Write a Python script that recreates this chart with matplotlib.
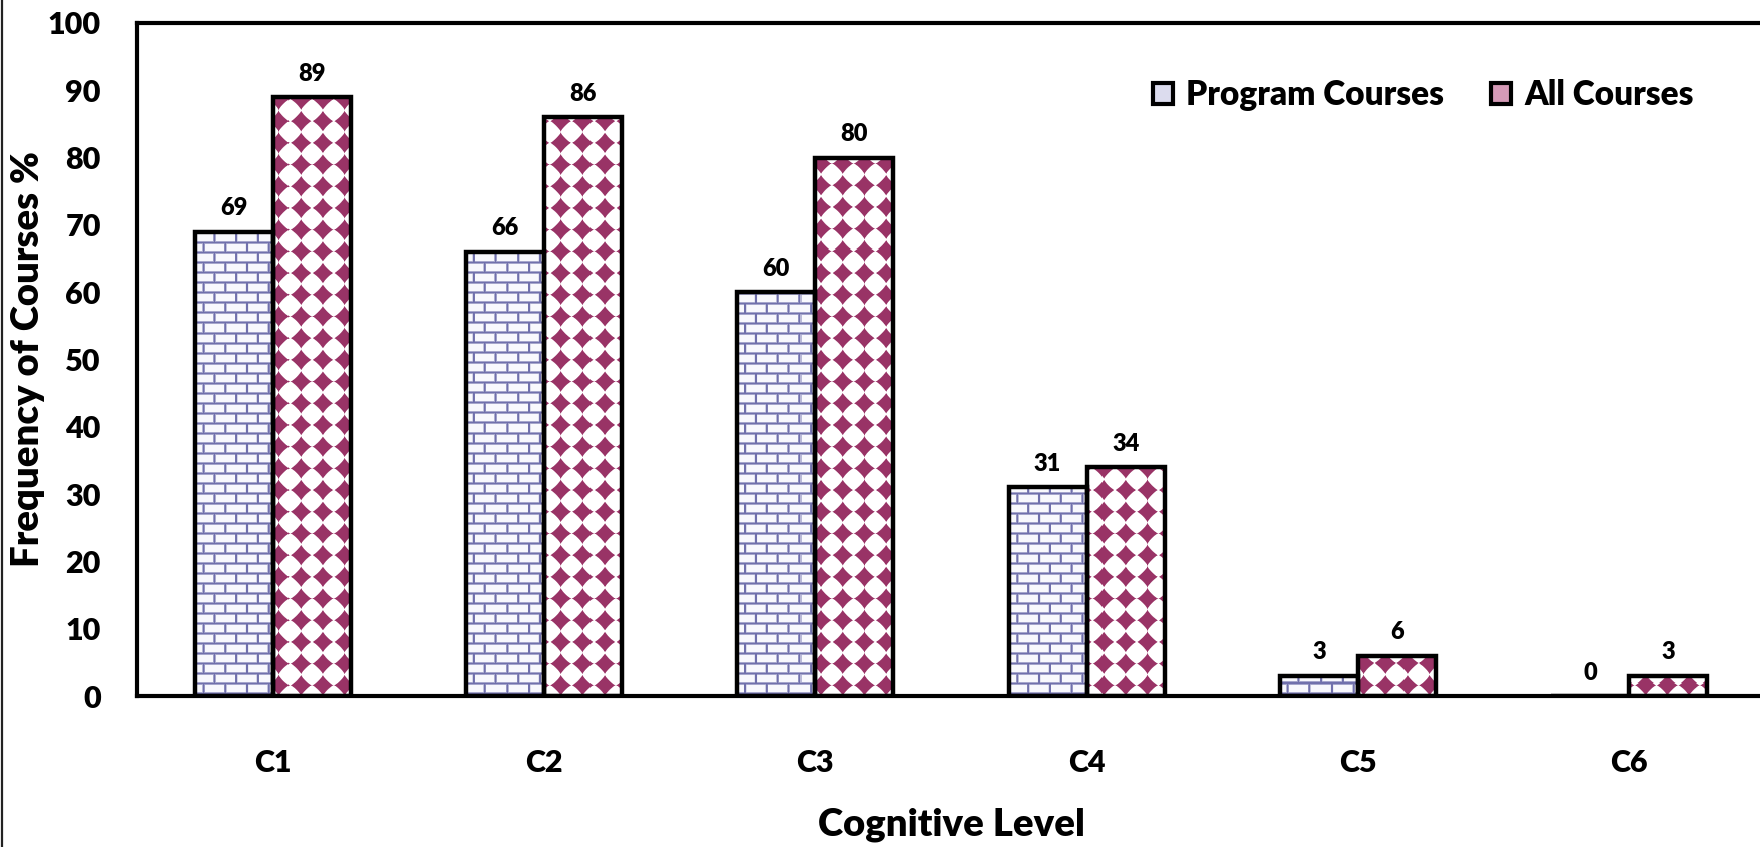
import numpy as np
import matplotlib
matplotlib.use("Agg")
import matplotlib.pyplot as plt
from matplotlib.patches import Patch
from matplotlib.lines import Line2D

plt.rcParams['font.family'] = ['Lato', 'DejaVu Sans']
plt.rcParams['font.weight'] = 'heavy'
plt.rcParams['axes.labelweight'] = 'heavy'

# cognitive levels and share of courses (%) at each level
levels = ['C1', 'C2', 'C3', 'C4', 'C5', 'C6']
program_courses = [69, 66, 60, 31, 3, 0]
all_courses = [89, 86, 80, 34, 6, 3]

W_PX, H_PX, DPI = 1760, 847, 100
fig = plt.figure(figsize=(W_PX / DPI, H_PX / DPI), dpi=DPI)
ax_rect = [137 / W_PX, 151 / H_PX, 1628 / W_PX, 673 / H_PX]
ax = fig.add_axes(ax_rect)

XLIM = (-0.5, 5.5)
YLIM = (0, 100)
ax.set_xlim(*XLIM)
ax.set_ylim(*YLIM)

# pixel grid covering the axes area, used to build the fill textures
aw = int(round(ax_rect[2] * W_PX))
ah = int(round(ax_rect[3] * H_PX))
yy, xx = np.mgrid[0:ah, 0:aw].astype(float)


def brick_texture(line_rgb, fill_rgb, row_h=10.0, brick_w=21.7, lw=2.0):
    # horizontal mortar lines
    ry = yy % row_h
    dh = np.minimum(ry, row_h - ry)
    # vertical mortar lines, shifted by half a brick on every other row
    row = np.floor(yy / row_h)
    rx = (xx + (row % 2) * brick_w / 2) % brick_w
    dv = np.minimum(rx, brick_w - rx)
    d = np.minimum(dh, dv)
    a = np.clip(lw / 2 + 0.6 - d, 0, 1)[..., None]
    line = np.array(line_rgb) / 255
    fill = np.array(fill_rgb) / 255
    return a * line + (1 - a) * fill


def diamond_texture(dot_rgb, step=21.7, r=10.3, p=0.85):
    dx = np.abs((xx % step) - step / 2)
    dy = np.abs((yy % step) - step / 2)
    d = (dx ** p + dy ** p) ** (1 / p)
    a = np.clip((r - d) / 1.6 + 0.5, 0, 1)[..., None]
    dot = np.array(dot_rgb) / 255
    return a * dot + (1 - a) * np.ones(3)


textures = [brick_texture((112, 112, 172), (248, 248, 253)),
            diamond_texture((153, 51, 102))]

x = np.arange(len(levels))
width = 0.288
series = [program_courses, all_courses]
offsets = [-width / 2, width / 2]

for vals, off, tex in zip(series, offsets, textures):
    bars = ax.bar(x + off, vals, width, facecolor='none', edgecolor='black',
                  linewidth=3.2, zorder=3)
    for bar, v in zip(bars, vals):
        im = ax.imshow(tex, extent=(*XLIM, *YLIM), origin='upper', aspect='auto',
                       interpolation='nearest', zorder=2)
        im.set_clip_path(bar)
        ax.annotate(f'{v}', (bar.get_x() + bar.get_width() / 2, v),
                    xytext=(0, 9), textcoords='offset points',
                    ha='center', va='bottom', fontsize=17)

ax.set_xlim(*XLIM)
ax.set_ylim(*YLIM)

ax.set_xticks(x)
ax.set_xticklabels(levels)
ax.set_yticks(np.arange(0, 101, 10))
ax.tick_params(axis='both', length=0, labelsize=22)
ax.tick_params(axis='x', pad=38)
ax.tick_params(axis='y', pad=26)

for side in ['top', 'left', 'bottom']:
    ax.spines[side].set_linewidth(3)
    ax.spines[side].set_color('black')
ax.spines['right'].set_visible(False)

ax.set_xlabel('Cognitive Level', fontsize=27.5, va='center')
ax.xaxis.set_label_coords(0.5, -(825 - 696) / 673)
ax.set_ylabel('Frequency of Courses %', fontsize=27.5, va='center')
ax.yaxis.set_label_coords(-(137 - 28) / 1628, 0.5)

handles = [Patch(facecolor='#dcdcee', edgecolor='black', linewidth=3),
           Patch(facecolor='#d59ab7', edgecolor='black', linewidth=3)]
fig.legend(handles, ['Program Courses', 'All Courses'], loc='center left',
           bbox_to_anchor=(1153 / W_PX, 1 - 95 / H_PX), ncol=2, frameon=False,
           borderpad=0, borderaxespad=0, handlelength=0.6,
           handleheight=0.6, handletextpad=0.4, columnspacing=1.4,
           prop={'weight': 'heavy', 'size': 24})

# thin border line along the left edge of the figure
fig.add_artist(Line2D([0.001, 0.001], [0, 1], transform=fig.transFigure,
                      color='#222222', linewidth=1.6))

fig.savefig('out.png', dpi=DPI)
